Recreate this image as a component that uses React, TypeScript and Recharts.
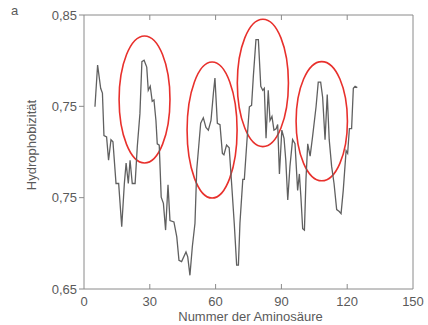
import { LineChart, Line, XAxis, YAxis, ReferenceArea } from 'recharts';

const residue = [
  5.0, 6.2, 7.6, 8.4, 9.1, 10.3, 11.2, 12.3, 13.2, 14.6, 15.8, 17.2, 18.4, 19.2, 20.2, 21.0, 22.0, 23.3,
  24.3, 25.5, 26.4, 27.4, 28.6, 29.3, 30.2, 31.1, 31.9, 32.8, 33.4, 34.3, 35.2, 36.2, 37.2, 38.3, 39.2,
  41.0, 42.3, 43.3, 44.5, 46.5, 47.3, 48.3, 49.4, 50.6, 51.4, 52.3, 53.2, 54.4, 55.6, 56.7, 57.9, 59.0,
  59.7, 60.8, 62.0, 63.1, 63.8, 65.0, 66.2, 67.3, 68.5, 69.6, 70.4, 71.1, 72.4, 73.1, 74.2, 75.4, 76.4,
  77.2, 78.4, 79.5, 80.6, 81.5, 82.2, 83.0, 84.0, 84.8, 85.7, 86.6, 87.6, 88.3, 89.1, 90.2, 91.2, 92.0,
  92.9, 93.9, 95.1, 96.2, 97.4, 98.2, 98.9, 99.7, 100.5, 101.2, 102.0, 103.1, 104.2, 105.8, 106.8, 107.9,
  108.8, 109.9, 110.9, 111.8, 112.9, 114.0, 115.2, 116.4, 117.2, 118.2, 119.5, 120.2, 121.0, 122.0, 122.8,
  123.6, 124.6,
];

const hydro = [
  0.783, 0.8135, 0.7965, 0.793, 0.762, 0.761, 0.744, 0.759, 0.7575, 0.727, 0.727, 0.6955, 0.727, 0.742,
  0.727, 0.744, 0.727, 0.727, 0.754, 0.778, 0.816, 0.817, 0.812, 0.795, 0.798, 0.787, 0.788, 0.773, 0.756,
  0.755, 0.717, 0.7125, 0.693, 0.726, 0.7, 0.699, 0.688, 0.671, 0.67, 0.677, 0.6735, 0.66, 0.681, 0.698,
  0.737, 0.754, 0.771, 0.775, 0.768, 0.766, 0.773, 0.793, 0.804, 0.771, 0.77, 0.749, 0.748, 0.755, 0.753,
  0.727, 0.698, 0.6675, 0.6675, 0.698, 0.73, 0.73, 0.756, 0.783, 0.784, 0.805, 0.832, 0.832, 0.798, 0.795,
  0.7965, 0.76, 0.795, 0.773, 0.776, 0.766, 0.767, 0.77, 0.734, 0.766, 0.76, 0.744, 0.715, 0.7395, 0.759,
  0.756, 0.722, 0.734, 0.717, 0.694, 0.693, 0.73, 0.756, 0.747, 0.761, 0.783, 0.801, 0.801, 0.79, 0.759,
  0.792, 0.759, 0.7395, 0.727, 0.708, 0.7065, 0.705, 0.722, 0.751, 0.749, 0.767, 0.767, 0.7965, 0.798,
  0.797,
];

const xTicks = [0, 30, 60, 90, 120, 150];
const yTicks = [0.65, 0.65 + 0.2 / 3, 0.65 + 0.4 / 3, 0.85];
const yTickLabels = ['0,65', '0,75', '0,75', '0,85'];

// highlighted regions [x1, x2, y1, y2]
const circles = [
  [16.0, 39.2, 0.742, 0.8347],
  [47.0, 69.8, 0.7164, 0.8157],
  [69.9, 93.2, 0.7539, 0.8469],
  [96.7, 120.1, 0.729, 0.816],
];

const data = residue.map((x, i) => ({ x, y: hydro[i] }));

const FONT = '"Liberation Sans", Arial, sans-serif';
const AXIS = '#8a8a8a';
const TEXT = '#5a5a5a';

const BottomTick = (props: any) => {
  const { x, y, payload } = props;
  const edge = payload.value === 0 || payload.value === 150;
  return (
    <g>
      {!edge && <line x1={x} x2={x} y1={y} y2={y - 5} stroke={AXIS} />}
      <text x={x} y={y + 17} textAnchor="middle" fill={TEXT} fontSize={13} fontFamily={FONT}>
        {payload.value}
      </text>
    </g>
  );
};

const TopTick = (props: any) => {
  const { x, y, payload } = props;
  if (payload.value === 0 || payload.value === 150) return <g />;
  return <line x1={x} x2={x} y1={y} y2={y + 5} stroke={AXIS} />;
};

const RightTick = (props: any) => {
  const { x, y, index } = props;
  if (index === 0 || index === 3) return <g />;
  return <line x1={x} x2={x - 5} y1={y} y2={y} stroke={AXIS} />;
};

const Ellipse = (props: any) => {
  const { x, y, width, height } = props;
  return (
    <ellipse
      cx={x + width / 2}
      cy={y + height / 2}
      rx={width / 2}
      ry={height / 2}
      fill="none"
      stroke="#e8302c"
      strokeWidth={1.6}
    />
  );
};

const XTitle = (props: any) => {
  const { viewBox } = props;
  return (
    <text
      x={viewBox.x + viewBox.width / 2 + 2}
      y={viewBox.y + 32}
      textAnchor="middle"
      fill={TEXT}
      fontSize={13}
      fontFamily={FONT}
    >
      Nummer der Aminosäure
    </text>
  );
};

const YTitle = (props: any) => {
  const { viewBox } = props;
  const cy = viewBox.y + viewBox.height / 2 - 7;
  return (
    <text
      x={36}
      y={cy}
      transform={`rotate(-90 36 ${cy})`}
      textAnchor="middle"
      fill={TEXT}
      fontSize={13}
      fontFamily={FONT}
    >
      Hydrophobizität
    </text>
  );
};

export default function App() {
  return (
    <div style={{ position: 'absolute', left: 0, top: 0, width: 428, height: 325, background: '#fff' }}>
      <div style={{ position: 'absolute', left: 11, top: 3, fontFamily: FONT, fontSize: 13, color: TEXT }}>a</div>
      <LineChart width={428} height={325} data={data} margin={{ top: 14, right: 14, left: 0, bottom: 0 }}>
        <XAxis
          dataKey="x"
          type="number"
          domain={[0, 150]}
          ticks={xTicks}
          allowDataOverflow
          height={36}
          stroke={AXIS}
          tickLine={false}
          tickSize={0}
          tickMargin={0}
          tick={BottomTick}
          label={<XTitle />}
        />
        <XAxis
          xAxisId="top"
          orientation="top"
          dataKey="x"
          type="number"
          domain={[0, 150]}
          ticks={xTicks}
          height={1}
          stroke={AXIS}
          tickLine={false}
          tickSize={0}
          tickMargin={0}
          tick={TopTick}
        />
        <YAxis
          type="number"
          domain={[0.65, 0.85]}
          ticks={yTicks}
          allowDataOverflow
          width={84}
          stroke={AXIS}
          tickSize={5}
          tickMargin={2}
          tick={{ fill: TEXT, fontSize: 13, fontFamily: FONT }}
          tickFormatter={(_v: number, i: number) => yTickLabels[i]}
          label={<YTitle />}
        />
        <YAxis
          yAxisId="right"
          orientation="right"
          type="number"
          domain={[0.65, 0.85]}
          ticks={yTicks}
          width={1}
          stroke={AXIS}
          tickLine={false}
          tickSize={0}
          tickMargin={0}
          tick={RightTick}
        />
        <Line
          type="linear"
          dataKey="y"
          stroke="#606060"
          strokeWidth={1.3}
          dot={false}
          isAnimationActive={false}
        />
        {circles.map((c, i) => (
          <ReferenceArea
            key={i}
            x1={c[0]}
            x2={c[1]}
            y1={c[2]}
            y2={c[3]}
            ifOverflow="visible"
            shape={Ellipse}
          />
        ))}
      </LineChart>
    </div>
  );
}
